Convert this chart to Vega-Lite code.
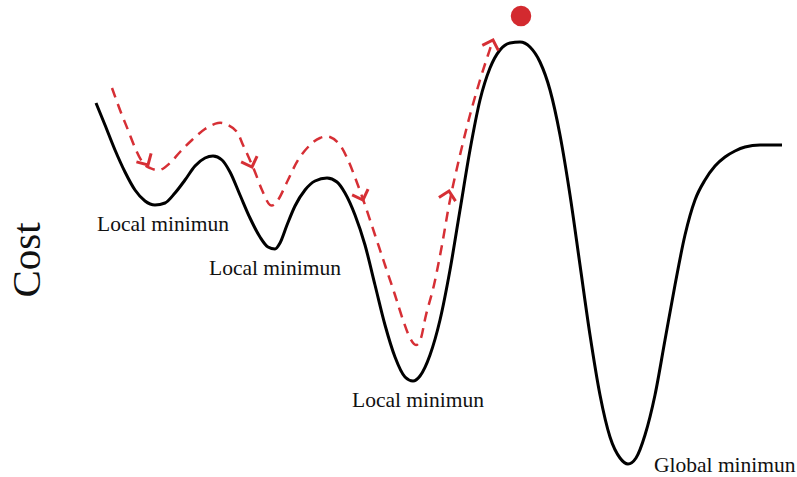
{
  "$schema": "https://vega.github.io/schema/vega-lite/v6.json",
  "width": 797,
  "height": 477,
  "autosize": {"type": "none"},
  "padding": 0,
  "background": "white",
  "config": {"view": {"stroke": null}},
  "datasets": {
    "curve": [
      {"x": 96, "py": 103}, {"x": 105, "py": 125}, {"x": 115, "py": 150}, {"x": 125, "py": 172}, {"x": 135, "py": 190},
      {"x": 145, "py": 201}, {"x": 155, "py": 205}, {"x": 165, "py": 203}, {"x": 175, "py": 193}, {"x": 185, "py": 180},
      {"x": 195, "py": 166}, {"x": 205, "py": 158}, {"x": 213, "py": 156}, {"x": 222, "py": 160}, {"x": 230, "py": 172},
      {"x": 240, "py": 195}, {"x": 250, "py": 218}, {"x": 260, "py": 237}, {"x": 268, "py": 247}, {"x": 275, "py": 249},
      {"x": 280, "py": 243}, {"x": 287, "py": 225}, {"x": 295, "py": 206}, {"x": 305, "py": 190}, {"x": 315, "py": 181},
      {"x": 327, "py": 178}, {"x": 337, "py": 182}, {"x": 345, "py": 193}, {"x": 355, "py": 215}, {"x": 365, "py": 245},
      {"x": 375, "py": 285}, {"x": 385, "py": 325}, {"x": 395, "py": 357}, {"x": 405, "py": 377}, {"x": 413, "py": 381},
      {"x": 420, "py": 376}, {"x": 430, "py": 355}, {"x": 440, "py": 320}, {"x": 450, "py": 270}, {"x": 460, "py": 210},
      {"x": 470, "py": 150}, {"x": 480, "py": 100}, {"x": 490, "py": 68}, {"x": 500, "py": 50}, {"x": 510, "py": 43},
      {"x": 520, "py": 42}, {"x": 530, "py": 47}, {"x": 540, "py": 62}, {"x": 550, "py": 90}, {"x": 560, "py": 135},
      {"x": 570, "py": 195}, {"x": 580, "py": 265}, {"x": 590, "py": 335}, {"x": 600, "py": 395}, {"x": 610, "py": 437},
      {"x": 620, "py": 458}, {"x": 628, "py": 464}, {"x": 636, "py": 458}, {"x": 645, "py": 435}, {"x": 655, "py": 395},
      {"x": 665, "py": 340}, {"x": 675, "py": 285}, {"x": 685, "py": 235}, {"x": 695, "py": 200}, {"x": 705, "py": 180},
      {"x": 715, "py": 166}, {"x": 725, "py": 157}, {"x": 735, "py": 151}, {"x": 745, "py": 147}, {"x": 760, "py": 145},
      {"x": 782, "py": 145}
    ],
    "path": [
      {"i": 1, "x": 112, "py": 88}, {"i": 2, "x": 120, "py": 110}, {"i": 3, "x": 128, "py": 130}, {"i": 4, "x": 136, "py": 150},
      {"i": 5, "x": 143, "py": 163}, {"i": 6, "x": 150, "py": 168}, {"i": 7, "x": 160, "py": 170}, {"i": 8, "x": 170, "py": 163},
      {"i": 9, "x": 180, "py": 152}, {"i": 10, "x": 192, "py": 140}, {"i": 11, "x": 205, "py": 129}, {"i": 12, "x": 218, "py": 123},
      {"i": 13, "x": 228, "py": 125}, {"i": 14, "x": 237, "py": 132}, {"i": 15, "x": 243, "py": 145}, {"i": 16, "x": 249, "py": 158},
      {"i": 17, "x": 255, "py": 172}, {"i": 18, "x": 262, "py": 190}, {"i": 19, "x": 270, "py": 205}, {"i": 20, "x": 278, "py": 200},
      {"i": 21, "x": 288, "py": 180}, {"i": 22, "x": 298, "py": 160}, {"i": 23, "x": 310, "py": 145}, {"i": 24, "x": 320, "py": 138},
      {"i": 25, "x": 330, "py": 137}, {"i": 26, "x": 340, "py": 145}, {"i": 27, "x": 348, "py": 160}, {"i": 28, "x": 356, "py": 180},
      {"i": 29, "x": 365, "py": 205}, {"i": 30, "x": 375, "py": 235}, {"i": 31, "x": 385, "py": 265}, {"i": 32, "x": 395, "py": 295},
      {"i": 33, "x": 403, "py": 320}, {"i": 34, "x": 410, "py": 338}, {"i": 35, "x": 416, "py": 345}, {"i": 36, "x": 421, "py": 338},
      {"i": 37, "x": 426, "py": 315}, {"i": 38, "x": 434, "py": 285}, {"i": 39, "x": 442, "py": 245}, {"i": 40, "x": 450, "py": 200},
      {"i": 41, "x": 460, "py": 155}, {"i": 42, "x": 470, "py": 115}, {"i": 43, "x": 480, "py": 80}, {"i": 44, "x": 488, "py": 55},
      {"i": 45, "x": 493, "py": 40}
    ],
    "arrows": [
      {"x": 148, "py": 165, "angle": 150},
      {"x": 252, "py": 167, "angle": 160},
      {"x": 363, "py": 200, "angle": 160},
      {"x": 449, "py": 191, "angle": 12},
      {"x": 493, "py": 40, "angle": 18}
    ],
    "dot": [{"x": 521, "py": 16}],
    "labels": [
      {"x": 97, "py": 231, "label": "Local minimun"},
      {"x": 209, "py": 275, "label": "Local minimun"},
      {"x": 352, "py": 407, "label": "Local minimun"},
      {"x": 654, "py": 472, "label": "Global minimun"}
    ],
    "title": [{"x": 28, "py": 260, "label": "Cost"}]
  },
  "layer": [
    {
      "data": {"name": "curve"},
      "transform": [{"calculate": "477 - datum.py", "as": "cost"}],
      "mark": {"type": "line", "color": "black", "strokeWidth": 3, "interpolate": "monotone"},
      "encoding": {
        "x": {"field": "x", "type": "quantitative", "scale": {"domain": [0, 797], "nice": false, "zero": false}, "axis": null},
        "y": {"field": "cost", "type": "quantitative", "scale": {"domain": [0, 477], "nice": false, "zero": false}, "axis": null}
      }
    },
    {
      "data": {"name": "path"},
      "transform": [{"calculate": "477 - datum.py", "as": "cost"}],
      "mark": {"type": "line", "color": "#d62f35", "strokeWidth": 2.5, "strokeDash": [10, 7], "interpolate": "cardinal"},
      "encoding": {
        "x": {"field": "x", "type": "quantitative"},
        "y": {"field": "cost", "type": "quantitative"},
        "order": {"field": "i", "type": "quantitative"}
      }
    },
    {
      "data": {"name": "arrows"},
      "transform": [{"calculate": "477 - datum.py", "as": "cost"}],
      "mark": {"type": "point", "shape": "M-0.8,0.8L0,0L0.8,0.8", "filled": false, "color": "#d62f35", "strokeWidth": 3, "size": 450, "opacity": 1},
      "encoding": {
        "x": {"field": "x", "type": "quantitative"},
        "y": {"field": "cost", "type": "quantitative"},
        "angle": {"field": "angle", "type": "quantitative", "scale": null}
      }
    },
    {
      "data": {"name": "dot"},
      "transform": [{"calculate": "477 - datum.py", "as": "cost"}],
      "mark": {"type": "circle", "color": "#d32a2f", "size": 420, "opacity": 1},
      "encoding": {
        "x": {"field": "x", "type": "quantitative"},
        "y": {"field": "cost", "type": "quantitative"}
      }
    },
    {
      "data": {"name": "labels"},
      "transform": [{"calculate": "477 - datum.py", "as": "cost"}],
      "mark": {"type": "text", "align": "left", "baseline": "alphabetic", "font": "Liberation Serif", "fontSize": 21.5, "color": "#111"},
      "encoding": {
        "x": {"field": "x", "type": "quantitative"},
        "y": {"field": "cost", "type": "quantitative"},
        "text": {"field": "label", "type": "nominal"}
      }
    },
    {
      "data": {"name": "title"},
      "transform": [{"calculate": "477 - datum.py", "as": "cost"}],
      "mark": {"type": "text", "align": "center", "baseline": "middle", "font": "Liberation Serif", "fontSize": 41, "angle": 270, "color": "#111"},
      "encoding": {
        "x": {"field": "x", "type": "quantitative"},
        "y": {"field": "cost", "type": "quantitative"},
        "text": {"field": "label", "type": "nominal"}
      }
    }
  ]
}
